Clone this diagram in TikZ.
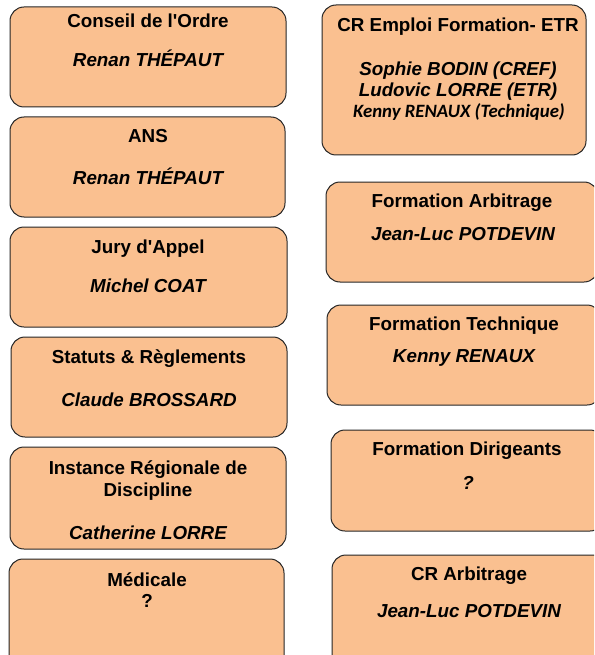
\documentclass[tikz,border=0pt]{standalone}
\usepackage{fontspec}
\setmainfont{Liberation Sans}
\newfontfamily\calfont{Carlito}
\definecolor{peach}{RGB}{250,192,144}
\tikzset{
  panel/.style={draw=black!85, line width=1pt, fill=peach, rounded corners=14pt},
  head/.style={anchor=base, inner sep=0pt, font=\fontsize{18.8}{22}\selectfont\bfseries},
  who/.style={anchor=base, inner sep=0pt, font=\fontsize{18.8}{22}\selectfont\bfseries\itshape},
  whocal/.style={anchor=base, inner sep=0pt, font=\fontsize{18.8}{22}\selectfont\calfont\bfseries\itshape}
}
\begin{document}
\begin{tikzpicture}[x=1pt, y=-1pt]
      \clip (0,0) rectangle (594,655);

      % left column
      \draw[panel] (10,7) rectangle (286,107);
      \node[head] (ordreT) at (148,28) {Conseil de l\textquotesingle Ordre};
      \node[who] (ordreN) at (148,67) {Renan THÉPAUT};

      \draw[panel] (10,117) rectangle (285,217);
      \node[head] (ansT) at (148,143) {ANS};
      \node[who] (ansN) at (148,185) {Renan THÉPAUT};

      \draw[panel] (10,227) rectangle (287,327);
      \node[head] (juryT) at (148,253) {Jury d\textquotesingle Appel};
      \node[who] (juryN) at (148,292) {Michel COAT};

      \draw[panel] (11,337) rectangle (287,437);
      \node[head] (statutsT) at (149,363) {Statuts \& Règlements};
      \node[who] (statutsN) at (149,406) {Claude BROSSARD};

      \draw[panel] (10,447) rectangle (286,549);
      \node[head] (irdT) at (148,474) {Instance Régionale de};
      \node[head] (irdU) at (148,496) {Discipline};
      \node[who] (irdN) at (148,539) {Catherine LORRE};

      \draw[panel] (9,559) rectangle (284,700);
      \node[head] (medT) at (147,586) {Médicale};
      \node[head] (medN) at (147,607) {?};

      % right column
      \draw[panel] (322,5) rectangle (586,155);
      \node[head] (empT) at (458,32) {CR Emploi Formation- ETR};
      \node[who] (empA) at (458,76) {Sophie BODIN (CREF)};
      \node[who] (empB) at (458,97) {Ludovic LORRE (ETR)};
      \node[whocal] (empC) at (459,118) {Kenny RENAUX (Technique)};

      \draw[panel] (326,182) rectangle (598,282);
      \node[head] (farbT) at (462,207) {Formation Arbitrage};
      \node[who] (farbN) at (463,240) {Jean-Luc POTDEVIN};

      \draw[panel] (327,305) rectangle (601,405);
      \node[head] (ftecT) at (464,330) {Formation Technique};
      \node[who] (ftecN) at (464,362) {Kenny RENAUX};

      \draw[panel] (331,430) rectangle (604,531);
      \node[head] (fdirT) at (467,455) {Formation Dirigeants};
      \node[who] (fdirN) at (468,489) {?};

      \draw[panel] (332,555) rectangle (606,700);
      \node[head] (crarbT) at (469,580) {CR Arbitrage};
      \node[who] (crarbN) at (469,617) {Jean-Luc POTDEVIN};
\end{tikzpicture}
\end{document}
